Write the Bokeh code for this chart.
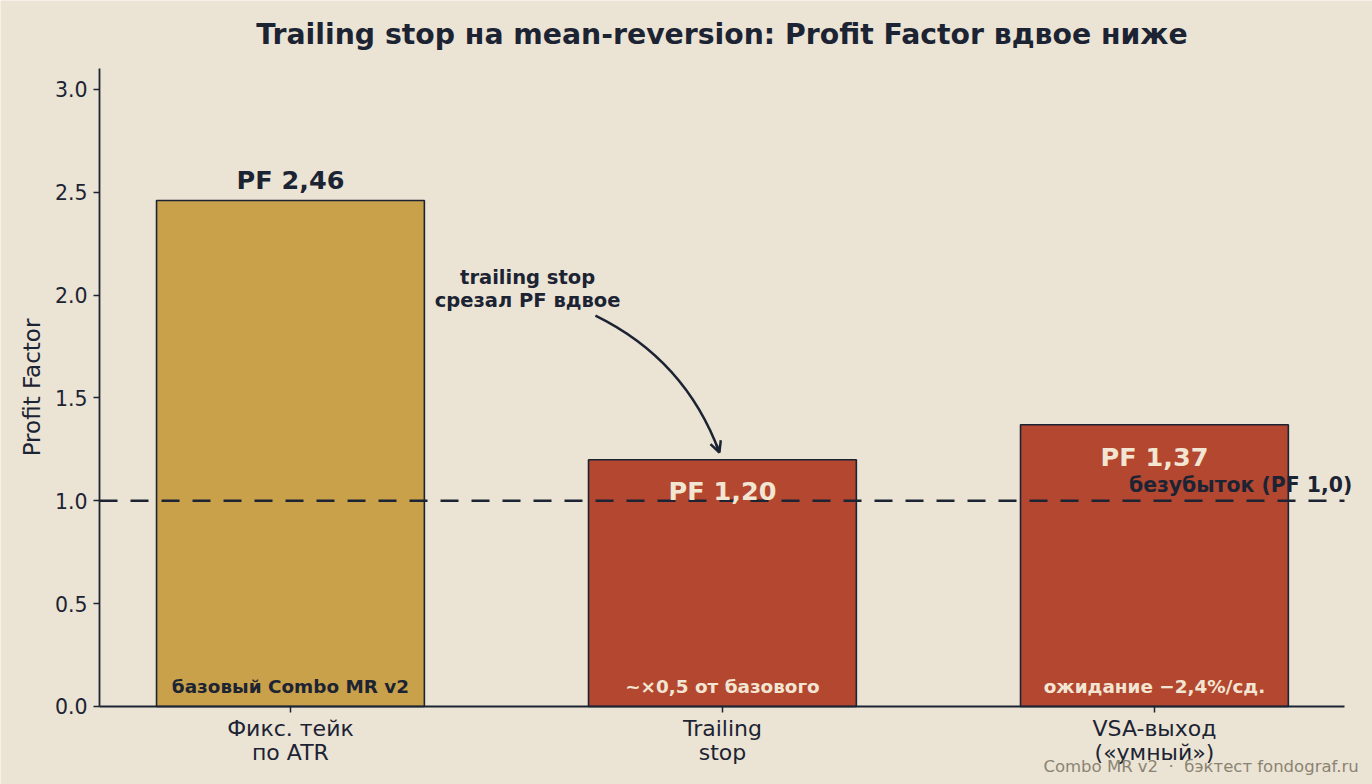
import math
from bokeh.plotting import figure
from bokeh.models import (ColumnDataSource, Range1d, FixedTicker, Label,
                          Arrow, OpenHead)
from bokeh.embed import file_html
from bokeh.resources import INLINE

# ---- data ----
title_text = "Trailing stop на mean-reversion: Profit Factor вдвое ниже"
categories = ["Фикс. тейк\nпо ATR", "Trailing\nstop", "VSA-выход\n(«умный»)"]
pf_values = [2.46, 1.20, 1.37]
value_labels = ["PF 2,46", "PF 1,20", "PF 1,37"]
bottom_labels = ["базовый Combo MR v2", "~×0,5 от базового", "ожидание −2,4%/сд."]
breakeven = 1.0
y_ticks = [0.0, 0.5, 1.0, 1.5, 2.0, 2.5, 3.0]

# ---- style ----
BG = "#EBE4D4"
DARK = "#1C2333"
GOLD = "#C9A14A"
RED = "#B34730"
CREAM = "#F2E6D2"
GRAY = "#8A8373"
FONT = "DejaVu Sans"

bar_colors = [GOLD, RED, RED]
label_colors = [DARK, CREAM, CREAM]
label_offsets = [0.10, -0.15, -0.155]
xs = list(range(len(categories)))

# axes limits (visible plot box) and the extra canvas room used for outer texts
X_MIN, X_MAX = -0.442, 2.44
Y_MIN, Y_MAX = 0.0, 3.102
LEFT_EXTRA = 0.2292    # left margin, in x units
RIGHT_EXTRA = 0.0648   # right margin, in x units
BOTTOM_EXTRA = 0.3793  # bottom margin, in y units
TOP_EXTRA = 0.3306     # top margin, in y units

p = figure(width=1372, height=784, output_backend="svg", toolbar_location=None,
           x_range=Range1d(X_MIN - LEFT_EXTRA, X_MAX + RIGHT_EXTRA),
           y_range=Range1d(Y_MIN - BOTTOM_EXTRA, Y_MAX + TOP_EXTRA),
           background_fill_color=BG, border_fill_color=BG,
           min_border_left=0, min_border_right=0, min_border_top=0,
           min_border_bottom=0)
p.outline_line_color = None
p.grid.visible = False

# title
p.add_layout(Label(x=(X_MIN + X_MAX) / 2, y=Y_MAX + 0.1654, text=title_text,
                   text_align="center", text_baseline="middle", text_font=FONT,
                   text_font_size="28.3px", text_font_style="bold", text_color=DARK))

src = ColumnDataSource(dict(x=xs, top=pf_values, color=bar_colors))
p.vbar(x="x", top="top", width=0.62, bottom=0, source=src, fill_color="color",
       line_color=DARK, line_width=1.6)

p.line(x=[X_MIN, X_MAX], y=[breakeven, breakeven], line_color=DARK,
       line_width=2.5, line_dash="18 13")

for i in xs:
    p.add_layout(Label(x=xs[i], y=pf_values[i] + label_offsets[i], text=value_labels[i],
                       text_align="center", text_baseline="middle", text_font=FONT,
                       text_font_size="25.5px", text_font_style="bold",
                       text_color=label_colors[i]))
    p.add_layout(Label(x=xs[i], y=0.097, text=bottom_labels[i],
                       text_align="center", text_baseline="middle", text_font=FONT,
                       text_font_size="18.4px", text_font_style="bold",
                       text_color=label_colors[i]))

p.add_layout(Label(x=2.458, y=1.079, text="безубыток (PF 1,0)", text_align="right",
                   text_baseline="middle", text_font=FONT, text_font_size="20.4px",
                   text_font_style="bold", text_color=DARK))

# annotation with curved arrow
ann_x, ann_y = 0.549, 2.03
p.add_layout(Label(x=ann_x, y=ann_y, text="trailing stop\nсрезал PF вдвое",
                   text_align="center", text_baseline="middle", text_font=FONT,
                   text_font_size="19.5px", text_font_style="bold", text_color=DARK,
                   text_line_height=1.0))
sx, sy = 0.706, 1.901
cx, cy = 0.914, 1.687
ex, ey = 0.993, 1.235
p.quadratic(x0=[sx], y0=[sy], x1=[ex], y1=[ey], cx=[cx], cy=[cy],
            line_color=DARK, line_width=2.5)
p.add_layout(Arrow(end=OpenHead(size=11, line_color=DARK, line_width=2.5),
                   x_start=ex - 0.08 * (ex - cx), y_start=ey - 0.08 * (ey - cy),
                   x_end=ex, y_end=ey, line_color=DARK, line_width=2.5))

# footer
p.add_layout(Label(x=1.743, y=-0.290,
                   text="Combo MR v2 \u00a0·\u00a0 бэктест fondograf.ru",
                   text_align="left", text_baseline="middle", text_font=FONT,
                   text_font_size="16.5px", text_color=GRAY))

# y-axis title
p.add_layout(Label(x=X_MIN - 0.1574, y=(Y_MIN + Y_MAX) / 2, text="Profit Factor",
                   angle=math.pi / 2, text_align="center", text_baseline="middle",
                   text_font=FONT, text_font_size="23px", text_color=DARK))

# axes
p.xaxis.fixed_location = 0
p.yaxis.fixed_location = X_MIN
p.xaxis.bounds = (X_MIN, X_MAX)
p.yaxis.bounds = (Y_MIN, Y_MAX)
p.xaxis.ticker = FixedTicker(ticks=xs)
p.xaxis.major_label_overrides = {i: categories[i] for i in xs}
p.yaxis.ticker = FixedTicker(ticks=y_ticks)
p.yaxis.major_label_overrides = {t: f"{t:.1f}" for t in y_ticks}
for ax in (p.xaxis, p.yaxis):
    ax.axis_line_color = DARK
    ax.axis_line_width = 1.8
    ax.major_tick_line_color = DARK
    ax.major_tick_line_width = 1.5
    ax.major_tick_in = 0
    ax.major_tick_out = 6
    ax.minor_tick_line_color = None
    ax.major_label_text_font = FONT
    ax.major_label_text_color = DARK
p.xaxis.major_label_text_font_size = "22px"
p.xaxis.major_label_text_line_height = 0.95
p.yaxis.major_label_text_font_size = "20.5px"
p.xaxis.major_label_standoff = 4
p.yaxis.major_label_standoff = 6

open("out.html", "w").write(file_html(p, INLINE))
